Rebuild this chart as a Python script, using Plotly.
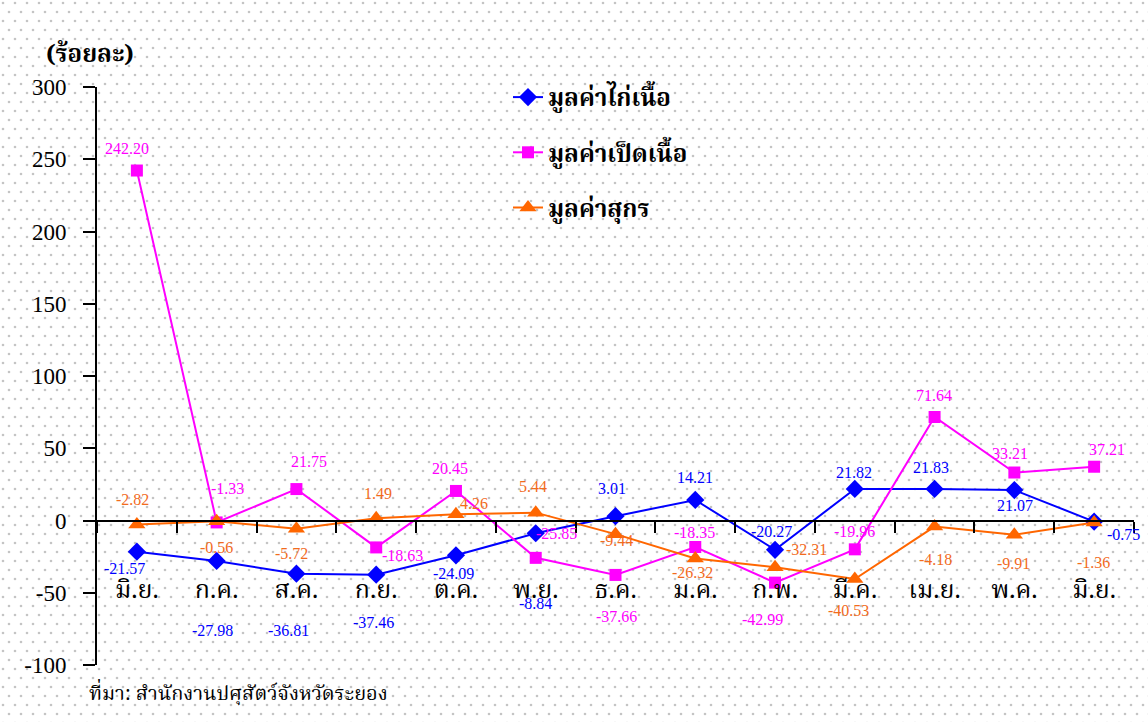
import base64
import plotly.graph_objects as go

months = ["มิ.ย.", "ก.ค.", "ส.ค.", "ก.ย.", "ต.ค.", "พ.ย.", "ธ.ค.", "ม.ค.", "ก.พ.", "มี.ค.", "เม.ย.", "พ.ค.", "มิ.ย."]
chicken = [-21.57, -27.98, -36.81, -37.46, -24.09, -8.84, 3.01, 14.21, -20.27, 21.82, 21.83, 21.07, -0.75]
duck = [242.20, -1.33, 21.75, -18.63, 20.45, -25.85, -37.66, -18.35, -42.99, -19.96, 71.64, 33.21, 37.21]
pig = [-2.82, -0.56, -5.72, 1.49, 4.26, 5.44, -9.44, -26.32, -32.31, -40.53, -4.18, -9.91, -1.36]
names = ["มูลค่าไก่เนื้อ", "มูลค่าเป็ดเนื้อ", "มูลค่าสุกร"]
ytick_vals = [-100, -50, 0, 50, 100, 150, 200, 250, 300]
ytick_text = ["-100", "-50", "0", "50", "100", "150", "200", "250", "300"]

# label offsets in pixels (dx right, dy down) relative to each point
chicken_off = [(-12, 17), (-4, 70), (-8, 57), (-3, 48), (-2, 18), (0, 70), (-4, -28), (0, -22), (-4, -18), (-1, -16), (-4, -21), (1, 15), (29, 13)]
duck_off = [(-10, -22), (11, -34), (13, -28), (26, 8), (-6, -22), (21, -24), (1, 42), (-1, -15), (-13, 37), (0, -18), (-1, -21), (-4, -19), (13, -17)]
pig_off = [(-4, -25), (0, 26), (-5, 25), (2, -25), (18, -11), (-3, -26), (1, 6), (-3, 14), (31, -18), (-6, 31), (1, 33), (-1, 29), (-1, 40)]

colors = ["#0000FF", "#FF00FF", "#FF6600"]
label_colors = ["#0000FF", "#FF00FF", "#F26B1D"]
symbols = ["diamond", "square", "triangle-up"]
msizes = [14, 12, 15]

THAI = "Noto Serif Thai, Noto Sans Thai, Times New Roman, Liberation Serif, serif"
SERIF = "Times New Roman, Liberation Serif, serif"

W, H = 1148, 722
L, R, T, B = 97, 14, 87, 57
PW, PH = W - L - R, H - T - B

xs = list(range(len(months)))
fig = go.Figure()
series = [chicken, duck, pig]
offs = [chicken_off, duck_off, pig_off]
for k in range(3):
    fig.add_trace(go.Scatter(
        x=xs, y=series[k], mode="lines+markers", name=names[k],
        legendgroup=str(k),
        line=dict(color=colors[k], width=2),
        marker=dict(symbol=symbols[k], size=msizes[k], color=colors[k]),
    ))

annotations = []
for k in range(3):
    for i, v in enumerate(series[k]):
        dx, dy = offs[k][i]
        annotations.append(dict(
            x=i, y=v, xref="x", yref="y", text=f"{v:.2f}", showarrow=False,
            xshift=dx, yshift=-dy, font=dict(family=SERIF, size=16, color=label_colors[k]),
        ))

annotations.append(dict(
    x=(44 - L) / PW, y=1 + (T - 55) / PH, xref="paper", yref="paper", text="<b>(ร้อยละ)</b>",
    showarrow=False, xanchor="left", yanchor="middle",
    font=dict(family=THAI, size=24, color="black"),
))
annotations.append(dict(
    x=(87 - L) / PW, y=-(694 - T - PH) / PH, xref="paper", yref="paper",
    text="ที่มา: สำนักงานปศุสัตว์จังหวัดระยอง",
    showarrow=False, xanchor="left", yanchor="middle",
    font=dict(family=THAI, size=20, color="black"),
))

svg = (
    f'<svg xmlns="http://www.w3.org/2000/svg" width="{W}" height="{H}">'
    '<defs><pattern id="p" width="12" height="18" patternUnits="userSpaceOnUse">'
    '<circle cx="3" cy="3" r="1.3" fill="#c4c4c4"/><circle cx="9" cy="12" r="1.3" fill="#c4c4c4"/>'
    '</pattern></defs><rect width="100%" height="100%" fill="white"/>'
    '<rect width="100%" height="100%" fill="url(#p)"/></svg>'
)
src = "data:image/svg+xml;base64," + base64.b64encode(svg.encode()).decode()

fig.update_layout(
    width=W, height=H,
    margin=dict(l=L, r=R, t=T, b=B),
    paper_bgcolor="white", plot_bgcolor="rgba(0,0,0,0)",
    showlegend=True,
    legend=dict(
        x=(508 - L) / PW, y=1 + (T - 75) / PH, xanchor="left", yanchor="top",
        bgcolor="rgba(0,0,0,0)", tracegroupgap=21,
        font=dict(family=THAI, size=24, color="black", weight="bold"),
    ),
    annotations=annotations,
    images=[dict(
        source=src, xref="paper", yref="paper", x=-L / PW, y=1 + T / PH,
        sizex=W / PW, sizey=H / PH, sizing="stretch", layer="below",
        xanchor="left", yanchor="top",
    )],
    xaxis=dict(
        type="category", range=[-0.5, 12.5], tickvals=xs, ticktext=months,
        tickson="boundaries", ticks="outside", ticklen=11, tickwidth=2, tickcolor="black",
        showline=True, linecolor="black", linewidth=2, showgrid=False, zeroline=False,
        anchor="free", position=0.25, ticklabelstandoff=46,
        tickfont=dict(family=THAI, size=25, color="black"),
    ),
    yaxis=dict(
        range=[-100, 300], tickvals=ytick_vals, ticktext=ytick_text,
        ticks="outside", ticklen=12, tickwidth=2,
        tickcolor="black", showline=True, linecolor="black", linewidth=2,
        showgrid=False, zeroline=False, ticklabelstandoff=12,
        tickfont=dict(family=SERIF, size=23, color="black"),
    ),
)

fig.write_html("out.html", config={"displayModeBar": False},
               post_script="document.body.style.margin='0';")
